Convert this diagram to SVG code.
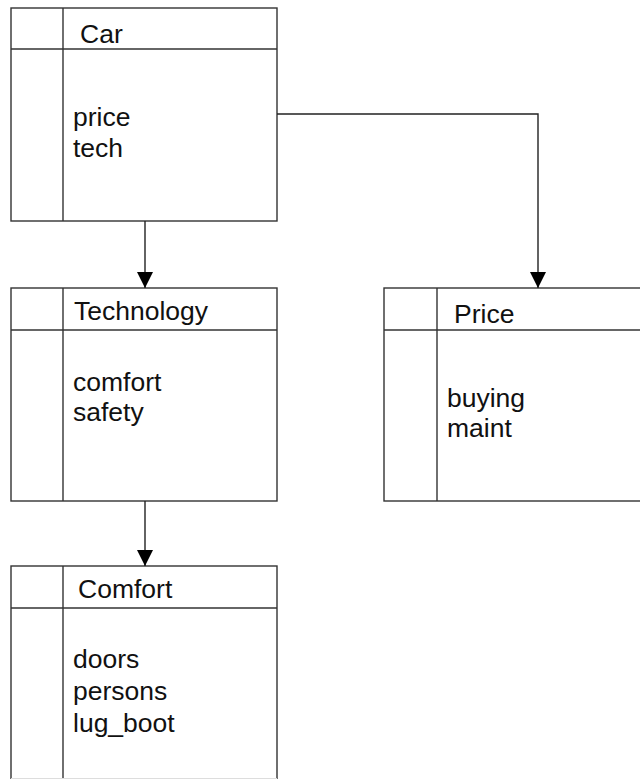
<svg xmlns="http://www.w3.org/2000/svg" width="640" height="779" viewBox="0 0 640 779">
  <style>
    .box { fill: #ffffff; stroke: #333333; stroke-width: 1.4; }
    .rule { stroke: #333333; stroke-width: 1.4; fill: none; }
    .title { font-family: "Liberation Sans", Arial, sans-serif; font-size: 26.5px; fill: #111111; }
    .attr { font-family: "Liberation Sans", Arial, sans-serif; font-size: 26.5px; fill: #111111; }
    .link { stroke: #222222; stroke-width: 1.4; fill: none; marker-end: url(#head); }
  </style>
  <defs>
    <marker id="head" viewBox="0 0 16 16" refX="16" refY="8" markerWidth="16" markerHeight="16" markerUnits="userSpaceOnUse" orient="auto">
      <path d="M0,0 L16,8 L0,16 Z" fill="#000000"/>
    </marker>
  </defs>
  <rect width="640" height="779" fill="#ffffff"/>

  <g id="car">
    <rect class="box" x="11" y="8" width="266" height="213"/>
    <line class="rule" x1="11" y1="49" x2="277" y2="49"/>
    <line class="rule" x1="63" y1="8" x2="63" y2="221"/>
    <text class="title" x="80" y="43">Car</text>
    <text class="attr" x="73" y="126">price</text>
    <text class="attr" x="73" y="157">tech</text>
  </g>

  <g id="technology">
    <rect class="box" x="11" y="288" width="266" height="213"/>
    <line class="rule" x1="11" y1="330" x2="277" y2="330"/>
    <line class="rule" x1="63" y1="288" x2="63" y2="501"/>
    <text class="title" x="74" y="320">Technology</text>
    <text class="attr" x="73" y="391">comfort</text>
    <text class="attr" x="73" y="421">safety</text>
  </g>

  <g id="price">
    <rect class="box" x="384" y="288" width="270" height="213"/>
    <line class="rule" x1="384" y1="330" x2="640" y2="330"/>
    <line class="rule" x1="437" y1="288" x2="437" y2="501"/>
    <text class="title" x="454" y="323">Price</text>
    <text class="attr" x="447" y="407">buying</text>
    <text class="attr" x="447" y="437">maint</text>
  </g>

  <g id="comfort">
    <rect class="box" x="11" y="566" width="266" height="240"/>
    <line class="rule" x1="11" y1="608" x2="277" y2="608"/>
    <line class="rule" x1="63" y1="566" x2="63" y2="779"/>
    <line x1="11" y1="778.5" x2="277" y2="778.5" stroke="#dddddd" stroke-width="1"/>
    <text class="title" x="78" y="598">Comfort</text>
    <text class="attr" x="73" y="668">doors</text>
    <text class="attr" x="73" y="700">persons</text>
    <text class="attr" x="73" y="732">lug_boot</text>
  </g>

  <g id="connectors">
    <path class="link" d="M145,221 L145,288"/>
    <path class="link" d="M145,501 L145,566"/>
    <path class="link" d="M277,114 L538,114 L538,288"/>
  </g>
</svg>
